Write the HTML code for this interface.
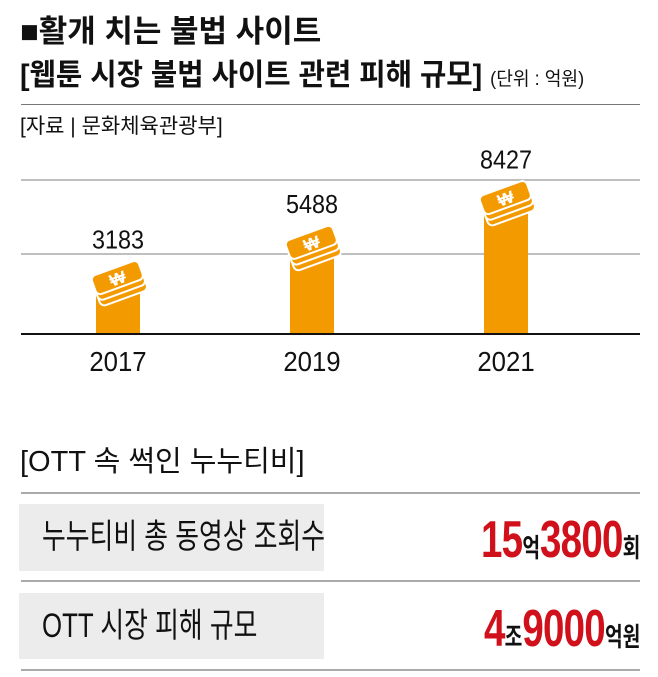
<!DOCTYPE html>
<html><head><meta charset="utf-8"><style>
body{margin:0;width:658px;height:677px;background:#fff;overflow:hidden;position:relative;font-family:"Liberation Sans","Noto Sans CJK KR",sans-serif;color:#111}
.t{position:absolute;white-space:nowrap;transform-origin:0 0;line-height:1}
.hl{position:absolute;left:21px;width:619px;height:2px;background:#aaa}
.box{position:absolute;left:19px;width:305px;background:#ececec}
.rv{position:absolute;right:18px;white-space:nowrap;line-height:1;font-weight:bold;color:#d0101a;font-size:52px;transform:scaleX(0.74);transform-origin:100% 0;letter-spacing:-1px}
.rv span{font-size:26px;color:#111;letter-spacing:0}
</style></head><body>
<div class="t" style="left:20px;top:16px;font-size:31px;font-weight:bold;transform:scaleX(1.0)">■활개 치는 불법 사이트</div>
<div class="t" style="left:20px;top:61px;font-size:30px;font-weight:bold;transform:scaleX(0.955)">[웹툰 시장 불법 사이트 관련 피해 규모] <span style="font-size:19px;font-weight:normal">(단위 : 억원)</span></div>
<div class="hl" style="top:104px;height:1px;background:#777"></div>
<div class="t" style="left:20px;top:116px;font-size:21px;transform:scaleX(1.0)">[자료 | 문화체육관광부]</div>
<svg id="chart" style="position:absolute;left:0;top:0" width="658" height="400"></svg>
<div class="t" style="left:20px;top:448px;font-size:29px;transform:scaleX(1.0)">[OTT 속 썩인 누누티비]</div>
<div class="hl" style="top:492px"></div>
<div class="box" style="top:504px;height:67px"></div>
<div class="t" style="left:42px;top:520px;font-size:34px;transform:scaleX(0.76)">누누티비 총 동영상 조회수</div>
<div class="rv" style="top:514px">15<span>억</span>3800<span>회</span></div>
<div class="hl" style="top:580px"></div>
<div class="box" style="top:593px;height:66px"></div>
<div class="t" style="left:42px;top:609px;font-size:34px;transform:scaleX(0.76)">OTT 시장 피해 규모</div>
<div class="rv" style="top:603px">4<span>조</span>9000<span>억원</span></div>
<div class="hl" style="top:669px"></div>
<script>
const years=["2017","2019","2021"];
const values=[3183,5488,8427];
const labels=["3183","5488","8427"];
const svg=document.getElementById('chart');
const NS="http://www.w3.org/2000/svg";
const baseY=334;
function y(v){return baseY-(23+v*0.01526);}
function x(i){return 118+i*194;}
function mk(t,a){const e=document.createElementNS(NS,t);for(const k in a)e.setAttribute(k,a[k]);svg.appendChild(e);return e;}
[180,254].forEach((gy,i)=>{const l=mk('line',{x1:21,x2:640,y1:gy,y2:gy,stroke:'#999','stroke-width':1.2});

});
values.forEach((v,i)=>{
 const cx=x(i),top=y(v);
 const b=mk('rect',{x:cx-22,y:top+22,width:44,height:baseY-top-22,fill:'#f39a00'});
 
 
 const g=document.createElementNS(NS,'g');svg.appendChild(g);
 
 
 g.setAttribute('transform',`translate(${cx},${top+17}) rotate(-20)`);
 [12,6,0].forEach(d=>{const r=document.createElementNS(NS,'rect');
  r.setAttribute('x',-25);r.setAttribute('y',-12+d);r.setAttribute('width',50);r.setAttribute('height',20);r.setAttribute('rx',5);
  r.setAttribute('fill','#f39a00');r.setAttribute('stroke','#fff');r.setAttribute('stroke-width',2);g.appendChild(r);});
 const w=document.createElementNS(NS,'text');w.setAttribute('x',0);w.setAttribute('y',5);w.setAttribute('text-anchor','middle');
 w.setAttribute('font-size','17');w.setAttribute('font-weight','bold');w.setAttribute('fill','#fff');w.textContent='₩';g.appendChild(w);
 const t=mk('text',{x:cx,y:top-14,'text-anchor':'middle','font-size':26,fill:'#111',transform:`translate(${cx},0) scale(0.9,1) translate(${-cx},0)`});
 t.textContent=labels[i];
 
 
 const yl=mk('text',{x:cx,y:371,'text-anchor':'middle','font-size':28,fill:'#111',transform:`translate(${cx},0) scale(0.92,1) translate(${-cx},0)`});
 yl.textContent=years[i];
 
 
});
const base=mk('line',{x1:21,x2:640,y1:baseY,y2:baseY,stroke:'#111','stroke-width':2});


</script>
</body></html>
